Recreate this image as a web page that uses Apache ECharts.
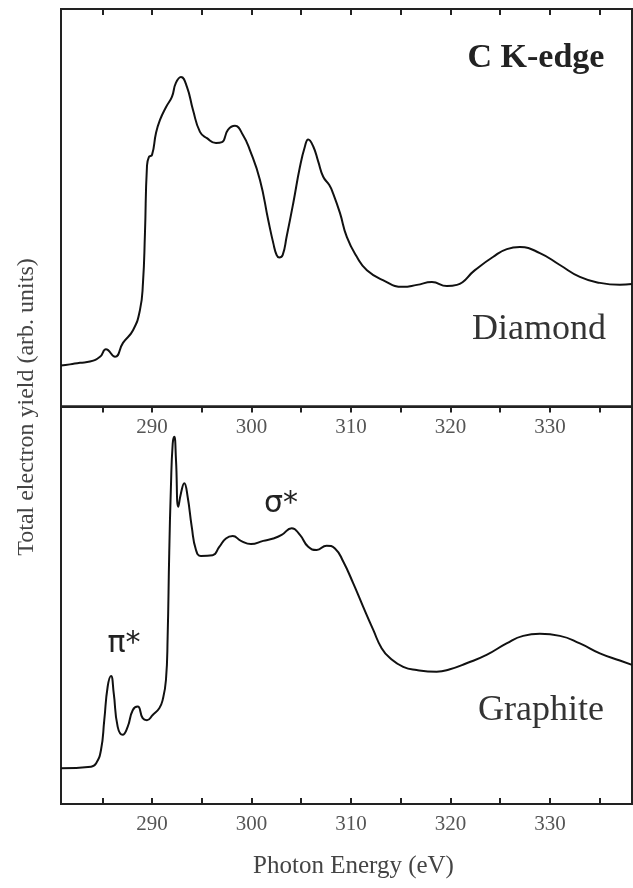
<!DOCTYPE html>
<html>
<head>
<meta charset="utf-8">
<title>C K-edge</title>
<script src="https://cdn.jsdelivr.net/npm/echarts@6/dist/echarts.min.js"></script>
<style>
  html, body { margin: 0; padding: 0; background: #fff; }
  #chart { width: 633px; height: 888px; }
</style>
</head>
<body>
<div id="chart"></div>
<script>
// photon energy (eV) and yield (arb. units, 0-100 per panel)
var diamondE = [280.85, 281.75, 282.76, 283.76, 284.77, 285.37, 286.28, 287.08, 288.09, 288.79,
    289.09, 289.29, 289.49, 289.69, 290.0, 290.4, 290.8, 291.4, 292.0, 292.4,
    292.91, 293.51, 294.12, 294.82, 295.52, 296.43, 297.03, 297.63, 298.34, 299.14,
    299.84, 300.85, 301.68, 302.19, 302.53, 302.79, 303.13, 303.53, 304.2, 304.87,
    305.37, 305.7, 306.21, 306.71, 307.21, 307.82, 308.19, 308.89, 309.59, 310.6,
    311.6, 313.21, 315.22, 316.63, 318.14, 319.64, 320.65, 322.46, 324.27, 325.67,
    326.98, 328.99, 331.0, 333.01, 335.02, 337.03, 338.24];
var diamondY = [10.3, 10.6, 11.0, 11.3, 12.5, 14.4, 12.5, 16.0, 19.2, 24.3,
    31.1, 43.6, 60.3, 62.8, 63.3, 68.8, 72.1, 75.3, 77.9, 81.4,
    82.9, 80.4, 74.6, 69.1, 67.5, 66.3, 66.5, 69.6, 70.6, 68.3,
    64.5, 57.0, 46.9, 41.1, 38.1, 37.5, 38.1, 42.7, 51.2, 60.3,
    65.4, 67.2, 65.4, 61.6, 57.8, 55.7, 53.7, 48.7, 42.6, 37.6,
    34.3, 31.8, 30.1, 30.6, 31.3, 30.3, 30.6, 34.3, 37.6, 39.6,
    40.1, 38.6, 35.6, 32.6, 31.1, 30.6, 30.8];

var graphiteE = [280.85, 283.87, 284.37, 284.87, 285.2, 285.54, 285.88, 286.15, 286.55, 287.05,
    287.55, 288.06, 288.56, 289.06, 289.49, 290.07, 290.73, 291.07, 291.4, 291.57,
    291.73, 291.9, 292.08, 292.24, 292.41, 292.64, 292.91, 293.24, 293.58, 293.99,
    294.42, 294.92, 296.1, 296.76, 297.43, 298.11, 298.94, 299.95, 301.18, 302.19,
    303.03, 304.04, 304.87, 305.7, 306.55, 307.55, 308.39, 309.22, 310.23, 311.23,
    312.24, 313.08, 313.92, 315.25, 316.6, 318.61, 319.95, 321.62, 323.63, 325.64,
    327.31, 328.99, 331.0, 333.01, 335.02, 337.03, 338.25];
var graphiteY = [9.0, 9.4, 10.2, 13.6, 21.1, 29.5, 32.2, 27.9, 19.4, 17.4,
    19.4, 23.6, 24.5, 21.6, 21.1, 22.4, 24.1, 26.2, 31.2, 42.1,
    63.1, 79.8, 90.7, 92.4, 86.5, 74.8, 78.2, 80.7, 77.3, 69.8,
    63.9, 62.4, 62.6, 64.7, 66.8, 67.4, 66.2, 65.4, 66.2, 66.8,
    67.7, 69.4, 67.7, 64.7, 63.9, 65.0, 64.3, 61.0, 55.5, 49.6,
    43.8, 39.2, 36.7, 34.5, 33.7, 33.3, 33.9, 35.4, 37.5, 40.4,
    42.3, 42.8, 42.3, 40.4, 37.9, 36.1, 35.0];

var labelTicks = [290, 300, 310, 320, 330];
var minorTicks = [285, 290, 295, 300, 305, 310, 315, 320, 325, 330, 335];

var xMin = 280.85, xMax = 338.25;
var serif = '"Liberation Serif", "DejaVu Serif", serif';

function pairs(xs, ys) {
    var out = [];
    for (var i = 0; i < xs.length; i++) out.push([xs[i], ys[i]]);
    return out;
}

function xAxisDef(grid, pos, showLabels, labelsInside) {
    return {
        type: 'value',
        gridIndex: grid,
        position: pos,
        min: xMin,
        max: xMax,
        splitLine: { show: false },
        axisLine: { show: true, onZero: false, lineStyle: { color: '#222', width: 2 } },
        axisTick: {
            show: true, inside: true, length: 6,
            customValues: minorTicks,
            lineStyle: { color: '#222', width: 2 }
        },
        axisLabel: {
            show: showLabels,
            inside: labelsInside,
            customValues: labelTicks,
            margin: 10,
            color: '#555',
            fontFamily: serif,
            fontSize: 21
        }
    };
}

var myChart = echarts.init(document.getElementById('chart'));

var option = {
    backgroundColor: '#fff',
    animation: false,
    grid: [
        { left: 61, top: 9, width: 571, height: 397.5, show: true, borderColor: '#222', borderWidth: 2 },
        { left: 61, top: 406.5, width: 571, height: 397.5, show: true, borderColor: '#222', borderWidth: 2 }
    ],
    xAxis: [
        xAxisDef(0, 'top', false, true),
        xAxisDef(1, 'top', true, true),
        (function () {
            var a = xAxisDef(1, 'bottom', true, false);
            a.name = 'Photon Energy (eV)';
            a.nameLocation = 'middle';
            a.nameGap = 50;
            a.nameTextStyle = { color: '#444', fontFamily: serif, fontSize: 25, padding: [0, 0, 0, 14] };
            return a;
        })()
    ],
    yAxis: [
        { type: 'value', gridIndex: 0, min: 0, max: 100, axisLine: { show: false },
          axisTick: { show: false }, axisLabel: { show: false }, splitLine: { show: false } },
        { type: 'value', gridIndex: 1, min: 0, max: 100, axisLine: { show: false },
          axisTick: { show: false }, axisLabel: { show: false }, splitLine: { show: false } }
    ],
    graphic: [
        { type: 'text', x: 27, y: 407, rotation: Math.PI / 2,
          style: { text: 'Total electron yield (arb. units)', fill: '#444', font: '24px ' + serif,
                   align: 'center', verticalAlign: 'middle' } },
        { type: 'text', x: 536, y: 58,
          style: { text: 'C K-edge', fill: '#222', font: 'bold 34px ' + serif,
                   align: 'center', verticalAlign: 'middle' } },
        { type: 'text', x: 539, y: 330,
          style: { text: 'Diamond', fill: '#333', font: '36px ' + serif,
                   align: 'center', verticalAlign: 'middle' } },
        { type: 'text', x: 541, y: 711,
          style: { text: 'Graphite', fill: '#333', font: '36px ' + serif,
                   align: 'center', verticalAlign: 'middle' } },
        { type: 'text', x: 124, y: 644,
          style: { text: 'π*', fill: '#222', font: '30px "DejaVu Sans", sans-serif',
                   align: 'center', verticalAlign: 'middle' } },
        { type: 'text', x: 281, y: 504,
          style: { text: 'σ*', fill: '#222', font: '30px "DejaVu Sans", sans-serif',
                   align: 'center', verticalAlign: 'middle' } }
    ],
    series: [
        {
            name: 'Diamond', type: 'line', xAxisIndex: 0, yAxisIndex: 0,
            data: pairs(diamondE, diamondY),
            showSymbol: false, smooth: 0.5,
            lineStyle: { color: '#111', width: 2 }
        },
        {
            name: 'Graphite', type: 'line', xAxisIndex: 2, yAxisIndex: 1,
            data: pairs(graphiteE, graphiteY),
            showSymbol: false, smooth: 0.5,
            lineStyle: { color: '#111', width: 2 }
        }
    ]
};
myChart.setOption(option);
window.onresize = function () {
    myChart.resize();
};
</script>
</body>
</html>
